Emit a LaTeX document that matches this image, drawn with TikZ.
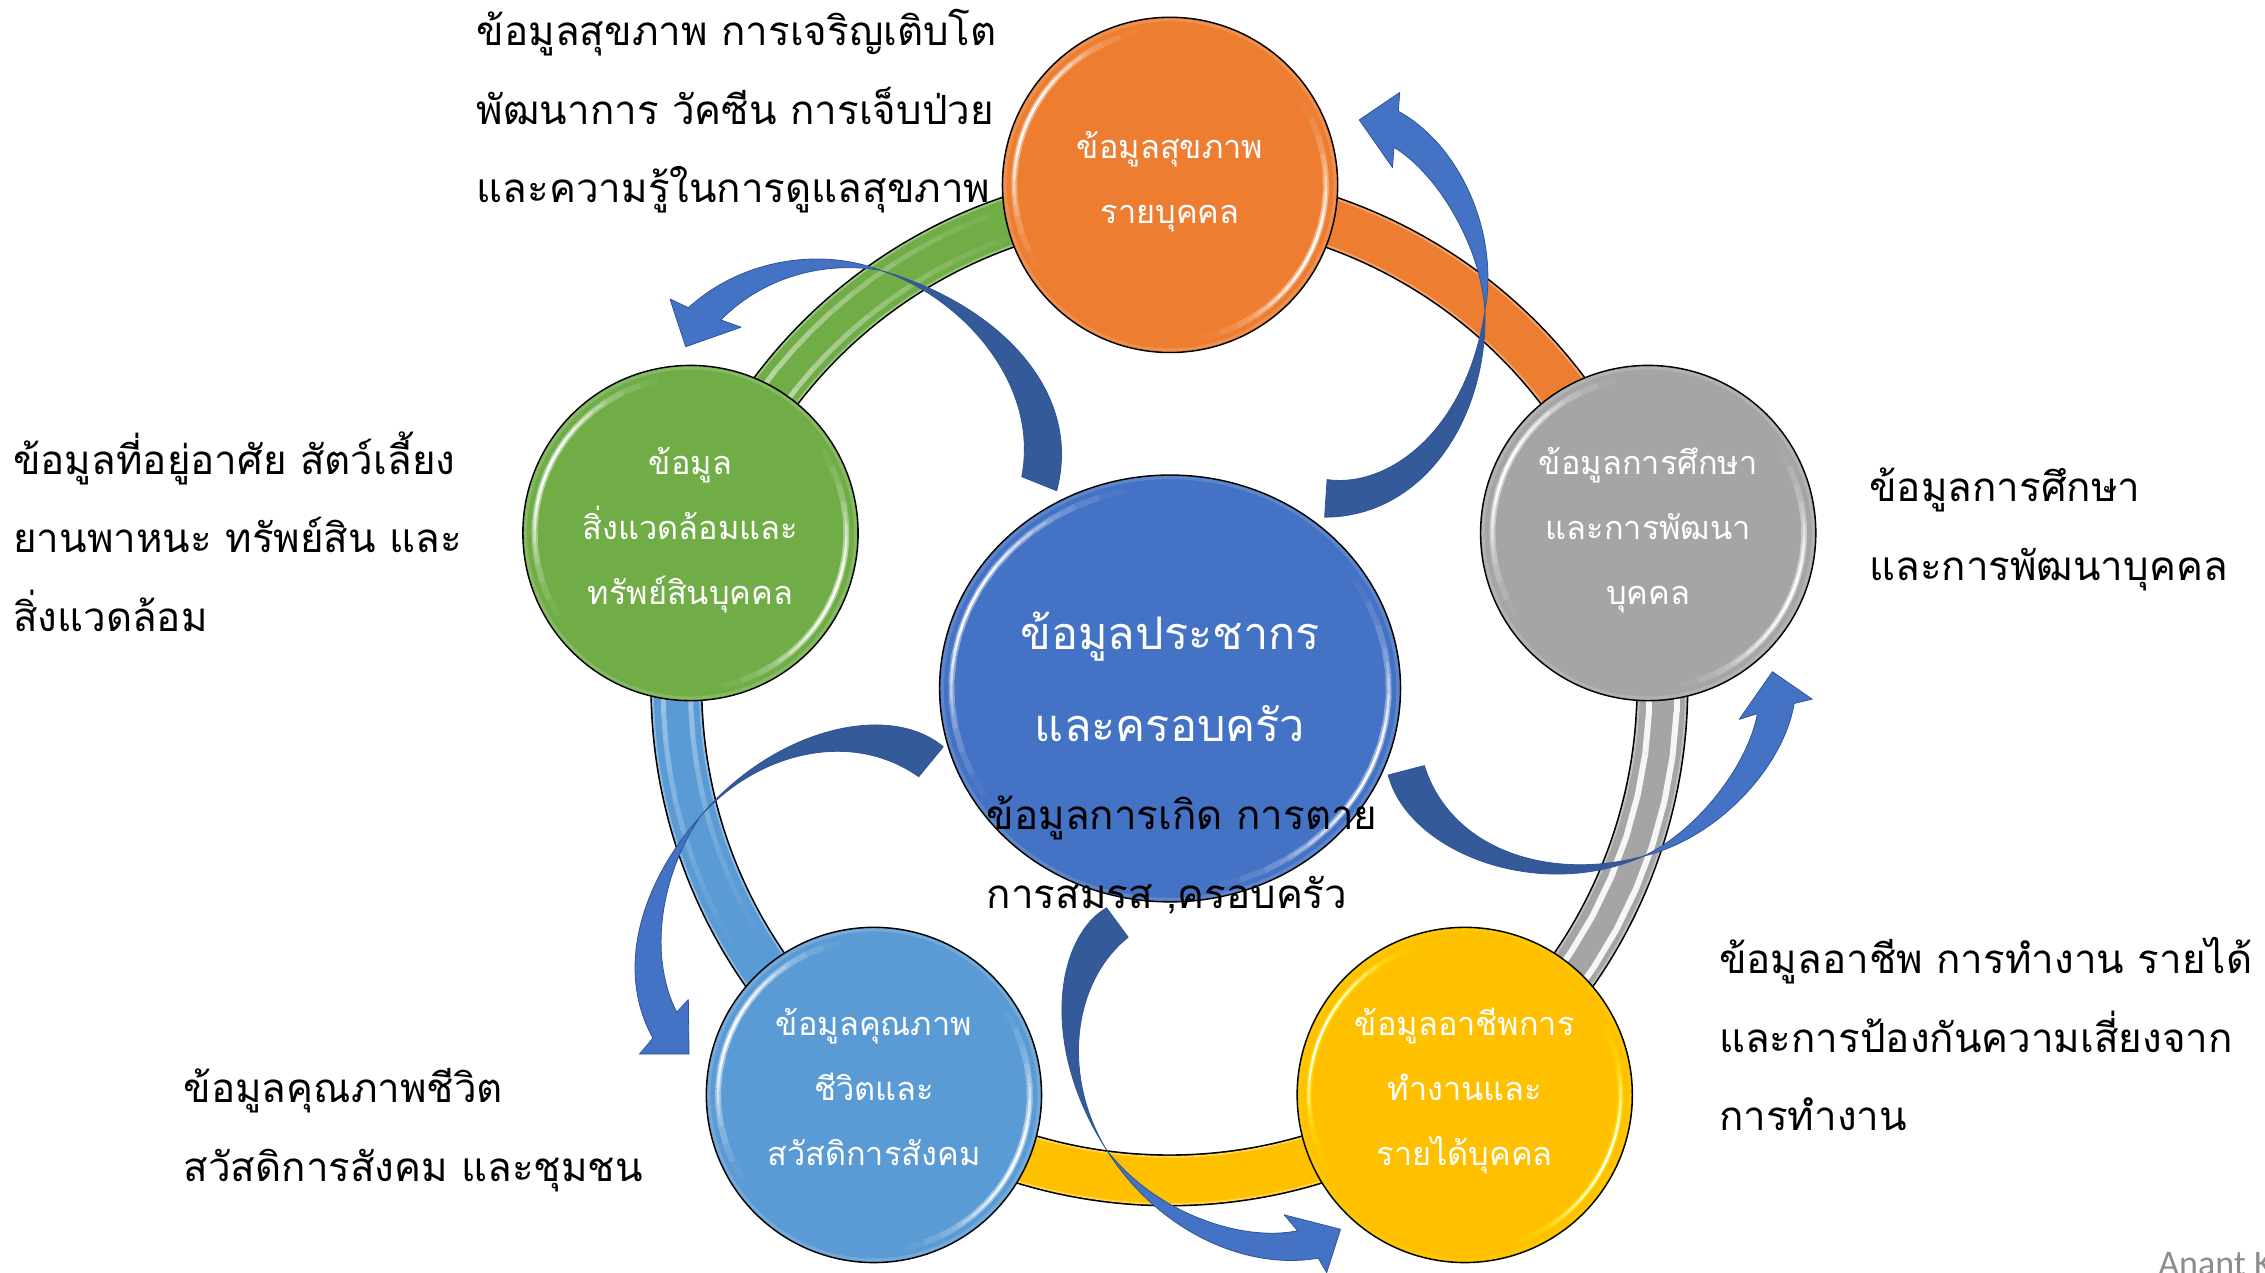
\documentclass[tikz,border=0pt]{standalone}
\usepackage{fontspec}
\usetikzlibrary{calc,backgrounds,shapes.geometric}
\newfontfamily\thaifont[Script=Thai]{Loma}
\newfontfamily\signfont{Carlito}
\definecolor{cOrange}{HTML}{ED7D31}
\definecolor{cGreen}{HTML}{70AD47}
\definecolor{cGrey}{HTML}{A5A5A5}
\definecolor{cSky}{HTML}{5B9BD5}
\definecolor{cYellow}{HTML}{FFC000}
\definecolor{cBlue}{HTML}{4472C4}
\definecolor{cDark}{HTML}{345A99}
\definecolor{cEdge}{HTML}{2F5597}
\newcommand\smTop{\rule{0pt}{38pt}}
\newcommand\smBot{\rule[-26pt]{0pt}{0pt}}
\newcommand\hubTop{\rule{0pt}{50pt}}
\newcommand\hubBot{\rule[-35.5pt]{0pt}{0pt}}
\newcommand\glint[8]{% cx cy rx ry a b colour width
  \foreach \k in {1,...,16}{
    \pgfmathsetmacro\ta{#5+(#6-#5)*(\k-1)/16}
    \pgfmathsetmacro\tb{#5+(#6-#5)*\k/16}
    \pgfmathsetmacro\op{sin(180*(\k-.5)/16)}
    \draw[#7,line width=#8,opacity=\op] ({#1+(#3)*cos(\ta)},{#2+(#4)*sin(\ta)}) -- ({#1+(#3)*cos(\tb)},{#2+(#4)*sin(\tb)});
  }}
\newcommand\bevel[5]{% cx cy rx ry colour
  \draw[#5,line width=3.5pt,opacity=.3] (#1,#2) ellipse[x radius=#3-1.6,y radius=#4-1.6];
  \glint{#1}{#2}{#3-8}{#4-8}{148}{258}{#5}{6pt}
  \glint{#1}{#2}{#3-8}{#4-8}{-32}{78}{#5}{6pt}
  \glint{#1}{#2}{#3-8}{#4-8}{168}{240}{white}{2.5pt}
  \glint{#1}{#2}{#3-8}{#4-8}{-12}{60}{white}{2.5pt}}
\newcommand\stripe[7]{% r a b colour width op0 op1
  \foreach \k in {1,...,14}{
    \pgfmathsetmacro\ta{#2+(#3-#2)*(\k-1)/14}
    \pgfmathsetmacro\tb{#2+(#3-#2)*\k/14}
    \pgfmathsetmacro\op{#6+(#7-#6)*(\k-.5)/14}
    \draw[#4,line width=#5,opacity=\op] ({810+#1*cos(\ta)},{477+#1*sin(\ta)}) -- ({810+#1*cos(\tb)},{477+#1*sin(\tb)});
  }}
\tikzset{
  bubble/.style={circle,draw=black,line width=1.6pt,minimum size=335.1pt,inner sep=0pt,
    text=white,align=center,font=\thaifont\fontsize{32.5}{65}\selectfont},
  hub/.style={ellipse,draw=black,line width=1.6pt,minimum width=460.8pt,minimum height=426.7pt,inner sep=0pt,
    fill=cBlue,text=white,align=center,font=\thaifont\fontsize{45}{92.4}\selectfont},
  note/.style={align=left,anchor=west,inner sep=0pt,text=black,font=\thaifont\fontsize{40.3}{78.5}\selectfont},
  bandline/.style={draw=black,line width=1.6pt,double=#1!70!white,double distance=49pt,bend left=36,looseness=.94},
  bandcore/.style={draw=#1,line width=45pt,bend left=36,looseness=.94},
  backarrow/.style={fill=cDark,draw=cEdge,line width=.8pt,line join=round},
  headarrow/.style={fill=cBlue,draw=cEdge,line width=.8pt,line join=round}
}
\begin{document}
\begin{tikzpicture}[x=1.44452pt,y=-1.44452pt]
\useasboundingbox (0,0) rectangle (1568,880.6);
\coordinate (C) at (810,477);
\node[bubble,fill=cOrange] (orange) at (810,128) {\smTop ข้อมูลสุขภาพ\\รายบุคคล\smBot};
\node[bubble,fill=cGrey] (grey) at (1141,369) {\smTop ข้อมูลการศึกษา\\และการพัฒนา\\บุคคล\smBot};
\node[bubble,fill=cYellow] (yellow) at (1014,758) {\smTop ข้อมูลอาชีพการ\\ทำงานและ\\รายได้บุคคล\smBot};
\node[bubble,fill=cSky] (sky) at (605,758) {\smTop ข้อมูลคุณภาพ\\ชีวิตและ\\สวัสดิการสังคม\smBot};
\node[bubble,fill=cGreen] (green) at (478,369) {\smTop ข้อมูล\\สิ่งแวดล้อมและ\\ทรัพย์สินบุคคล\smBot};
\node[hub] (hub) at (810,476.6) {\hubTop ข้อมูลประชากร\\และครอบครัว\hubBot};
\foreach \n in {orange,grey,yellow,sky,green}{
  \coordinate (b\n) at ($(C)!0.98!(\n.center)$);
}
\begin{pgfonlayer}{background}
  \foreach \a/\b/\c in {borange/bgrey/cOrange,bgrey/byellow/cGrey,byellow/bsky/cYellow,bsky/bgreen/cSky,bgreen/borange/cGreen}{
    \draw[bandline=\c] (\a) to (\b);
    \draw[bandcore=\c] (\a) to (\b);
  }
  \stripe{351}{-18}{54}{white}{6pt}{.9}{.9}
  \stripe{332}{-18}{54}{white}{6pt}{.9}{.9}
  \stripe{351}{198}{150}{white!70!cSky}{5pt}{.9}{0}
  \stripe{332}{198}{150}{white!70!cSky}{5pt}{.9}{0}
  \stripe{351}{210}{252}{white!60!cGreen}{5pt}{1}{0}
  \stripe{332}{210}{252}{white!60!cGreen}{5pt}{1}{0}
\end{pgfonlayer}
\bevel{810}{128}{116}{116}{white!45!cOrange}
\bevel{1141}{369}{116}{116}{white!50!cGrey}
\bevel{1014}{758}{116}{116}{yellow!60!cYellow}
\bevel{605}{758}{116}{116}{white!50!cSky}
\bevel{478}{369}{116}{116}{white!50!cGreen}
\bevel{810}{476.6}{159.5}{147.7}{white!45!cBlue}
% curved block arrows
\path[backarrow] (918.7,332) .. controls (960,338) and (1015,300) .. (1028,215) .. controls (1030,290) and (985,358) .. (917,358) -- cycle;
\path[headarrow] (1028,215) .. controls (1038,160) and (1010,100) .. (968,77) -- (969,64) -- (941,83) -- (964,116) -- (965,102) .. controls (995,120) and (1025,170) .. (1028,215) -- cycle;
\path[backarrow] (731.5,339.7) .. controls (750,270) and (690,210) .. (609,187) .. controls (665,205) and (720,265) .. (707.3,330) -- cycle;
\path[headarrow] (609,187) .. controls (570,172) and (515,178) .. (476.6,213) -- (463.8,207) -- (474.7,240) -- (513,226.5) -- (499,221.5) .. controls (525,195) and (565,180) .. (609,187) -- cycle;
\path[backarrow] (653,517) .. controls (615,485) and (535,505) .. (484.6,565.4) .. controls (525,520) and (590,505) .. (636,537.7) -- cycle;
\path[headarrow] (484.6,565.4) .. controls (445,610) and (425,670) .. (452,718.7) -- (442.7,729.7) -- (477,729.7) -- (476.5,692) -- (468.5,700.7) .. controls (450,665) and (455,610) .. (484.6,565.4) -- cycle;
\path[backarrow] (766,628.4) .. controls (730,650) and (720,725) .. (766,796) .. controls (735,745) and (742,680) .. (781,648.8) -- cycle;
\path[headarrow] (766,796) .. controls (800,850) and (860,880) .. (912.6,871) -- (918.4,881) -- (928,851) -- (889,841) -- (898.3,852) .. controls (860,860) and (800,840) .. (766,796) -- cycle;
\path[backarrow] (961,536.5) .. controls (975,590) and (1065,625) .. (1138,592.6) .. controls (1075,610) and (1005,590) .. (986,530) -- cycle;
\path[headarrow] (1138,592.6) .. controls (1190,580) and (1235,530) .. (1242,487) -- (1254.5,484) -- (1227,465) -- (1204,498) -- (1216.6,494) .. controls (1210,530) and (1175,575) .. (1138,592.6) -- cycle;
% labels
\node[note] (nOrange) at (330,77) {ข้อมูลสุขภาพ การเจริญเติบโต\\พัฒนาการ วัคซีน การเจ็บป่วย\\และความรู้ในการดูแลสุขภาพ};
\node[note] (nGreen) at (9,368) {ข้อมูลที่อยู่อาศัย สัตว์เลี้ยง\\ยานพาหนะ ทรัพย์สิน และ\\สิ่งแวดล้อม};
\node[note] (nGrey) at (1294,366.5) {ข้อมูลการศึกษา\\และการพัฒนาบุคคล};
\node[note] (nYellow) at (1190,716) {ข้อมูลอาชีพ การทำงาน รายได้\\และการป้องกันความเสี่ยงจาก\\การทำงาน};
\node[note] (nSky) at (127,782.5) {ข้อมูลคุณภาพชีวิต\\สวัสดิการสังคม และชุมชน};
\node[note] (nHub) at (683,592) {ข้อมูลการเกิด การตาย\\การสมรส ,ครอบครัว};
\node[anchor=base west,inner sep=0pt,text=black!45,font=\signfont\fontsize{36}{40}\selectfont] (sign) at (1494,883) {Anant K};
\end{tikzpicture}
\end{document}
